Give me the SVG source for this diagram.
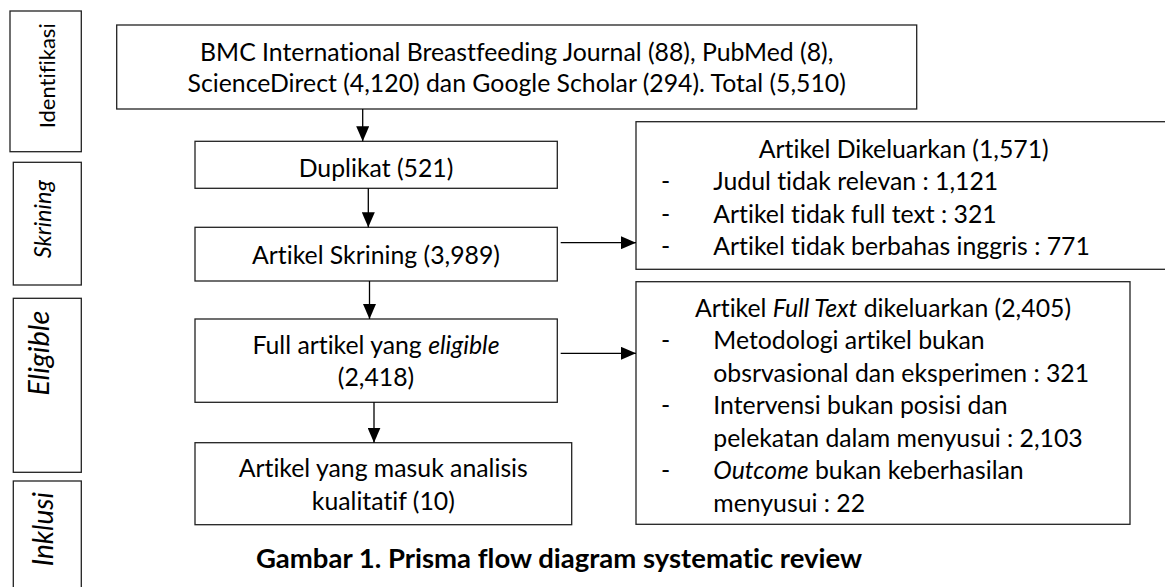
<svg xmlns="http://www.w3.org/2000/svg" width="1165" height="587" viewBox="0 0 1165 587">
<style>
.box{fill:#fff;stroke:#222;stroke-width:1.3}
.t{font-family:Lato,"Open Sans","Liberation Sans",sans-serif;font-size:24.8px;fill:#000;font-variant-ligatures:none}
.c{text-anchor:middle}
.i{font-style:italic}
.b{font-weight:bold;font-size:27.5px}
#connectors line{stroke:#000;stroke-width:1.3}
</style>
<defs>
<marker id="ah" viewBox="0 0 15 13" refX="15" refY="6.5" markerWidth="15" markerHeight="13" markerUnits="userSpaceOnUse" orient="auto">
<path d="M0,0 L15,6.5 L0,13 z" fill="#000"/>
</marker>
</defs>
<rect x="0" y="0" width="1165" height="587" fill="#fff"/>

<g id="stage-identifikasi">
<rect class="box" x="10" y="11" width="71.3" height="140.7"/>
<text class="t c" style="font-size:22px" transform="translate(55,75.8) rotate(-90)">Identifikasi</text>
</g>
<g id="stage-skrining">
<rect class="box" x="13.3" y="162.3" width="68" height="122.7"/>
<text class="t c i" style="font-size:23.5px" transform="translate(50.5,219.2) rotate(-90)">Skrining</text>
</g>
<g id="stage-eligible">
<rect class="box" x="13.3" y="298.3" width="68" height="174"/>
<text class="t c i" style="font-size:29px" transform="translate(49,353.3) rotate(-90)">Eligible</text>
</g>
<g id="stage-inklusi">
<rect class="box" x="13.3" y="481" width="68" height="120"/>
<text class="t c i" style="font-size:28px" transform="translate(53,529.2) rotate(-90)">Inklusi</text>
</g>

<g id="sources">
<rect class="box" x="116.7" y="25" width="800" height="84"/>
<text class="t c" x="516.7" y="61">BMC International Breastfeeding Journal (88), PubMed (8),</text>
<text class="t c" x="516.7" y="92">ScienceDirect (4,120) dan Google Scholar (294). Total (5,510)</text>
</g>

<g id="duplikat">
<rect class="box" x="195" y="141.3" width="362.3" height="47"/>
<text class="t c" x="376" y="176.7">Duplikat (521)</text>
</g>

<g id="skrining">
<rect class="box" x="195" y="227.3" width="362.3" height="53.7"/>
<text class="t c" x="376" y="264">Artikel Skrining (3,989)</text>
</g>

<g id="eligible">
<rect class="box" x="195" y="319" width="362.3" height="83.3"/>
<text class="t c" x="376" y="354.3">Full artikel yang <tspan class="i">eligible</tspan></text>
<text class="t c" x="376" y="386">(2,418)</text>
</g>

<g id="inklusi">
<rect class="box" x="195" y="442.7" width="376.7" height="82"/>
<text class="t c" x="383.3" y="476.7">Artikel yang masuk analisis</text>
<text class="t c" x="383.3" y="510">kualitatif (10)</text>
</g>

<g id="excluded-screening">
<rect class="box" x="636" y="121.7" width="540" height="147.6"/>
<text class="t c" x="903.8" y="157.5">Artikel Dikeluarkan (1,571)</text>
<text class="t" x="661" y="190">-</text>
<text class="t" x="713.3" y="190">Judul tidak relevan : 1,121</text>
<text class="t" x="661" y="222.5">-</text>
<text class="t" x="713.3" y="222.5">Artikel tidak full text : 321</text>
<text class="t" x="661" y="255">-</text>
<text class="t" x="713.3" y="255">Artikel tidak berbahas inggris : 771</text>
</g>

<g id="excluded-fulltext">
<rect class="box" x="636" y="281.7" width="494" height="242.6"/>
<text class="t c" x="883" y="316.7">Artikel <tspan class="i">Full Text</tspan> dikeluarkan (2,405)</text>
<text class="t" x="661" y="349.2">-</text>
<text class="t" x="713.3" y="349.2">Metodologi artikel bukan</text>
<text class="t" x="713.3" y="381.7">obsrvasional dan eksperimen : 321</text>
<text class="t" x="661" y="414.2">-</text>
<text class="t" x="713.3" y="414.2">Intervensi bukan posisi dan</text>
<text class="t" x="713.3" y="446.7">pelekatan dalam menyusui : 2,103</text>
<text class="t" x="661" y="479.2">-</text>
<text class="t" x="713.3" y="479.2"><tspan class="i">Outcome</tspan> bukan keberhasilan</text>
<text class="t" x="713.3" y="511.7">menyusui : 22</text>
</g>

<g id="caption">
<text class="t c b" x="559" y="568">Gambar 1. Prisma flow diagram systematic review</text>
</g>

<g id="connectors">
<line x1="362.7" y1="109" x2="362.7" y2="141.3" marker-end="url(#ah)"/>
<line x1="368.3" y1="188.3" x2="368.3" y2="227.3" marker-end="url(#ah)"/>
<line x1="369.5" y1="281" x2="369.5" y2="319" marker-end="url(#ah)"/>
<line x1="374" y1="402.3" x2="374" y2="442.7" marker-end="url(#ah)"/>
<line x1="560.7" y1="242.7" x2="636" y2="242.7" marker-end="url(#ah)"/>
<line x1="560.7" y1="353.3" x2="636" y2="353.3" marker-end="url(#ah)"/>
</g>
</svg>
